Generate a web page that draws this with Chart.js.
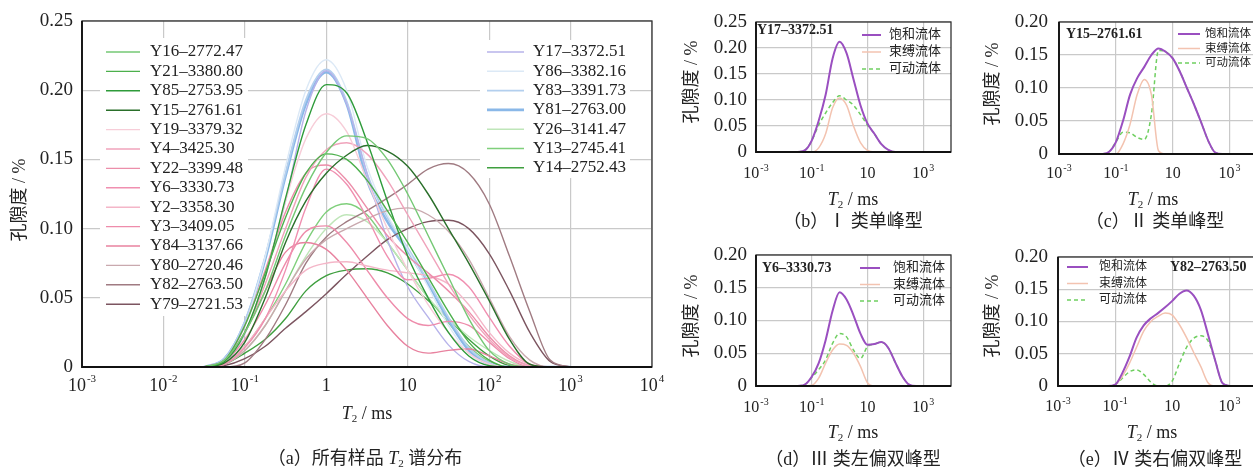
<!DOCTYPE html>
<html>
<head>
<meta charset="utf-8">
<script src="https://cdn.jsdelivr.net/npm/chart.js@4.4.1/dist/chart.umd.min.js"></script>
<style>
  html, body { margin: 0; padding: 0; background: #fff; width: 1253px; height: 473px; overflow: hidden; }
  canvas { position: absolute; }
</style>
</head>
<body>
<canvas id="chartA" width="670" height="473" style="left:0;top:0"></canvas>
<canvas id="chartB" width="290" height="235" style="left:680px;top:0"></canvas>
<canvas id="chartC" width="310" height="235" style="left:960px;top:0"></canvas>
<canvas id="chartD" width="290" height="243" style="left:680px;top:230px"></canvas>
<canvas id="chartE" width="310" height="243" style="left:960px;top:230px"></canvas>
<script>
// T2 sampling grid (ms), shared by every curve
const t2Ms = [0.0316, 0.0562, 0.1, 0.178, 0.316, 0.562, 1, 1.78, 3.16, 5.62, 10, 17.8, 31.6, 56.2, 100, 178, 316, 562, 1000];

// (a) all samples, porosity %
const y16 = [0, 0.005, 0.025, 0.055, 0.095, 0.13, 0.155, 0.167, 0.165, 0.15, 0.125, 0.095, 0.065, 0.035, 0.012, 0.002, 0, 0, 0];
const y21 = [0, 0.005, 0.03, 0.068, 0.108, 0.14, 0.154, 0.15, 0.135, 0.113, 0.09, 0.065, 0.04, 0.018, 0.005, 0, 0, 0, 0];
const y85 = [0, 0.004, 0.025, 0.065, 0.122, 0.175, 0.204, 0.198, 0.163, 0.12, 0.08, 0.05, 0.025, 0.008, 0.001, 0, 0, 0, 0];
const y15 = [0, 0.003, 0.018, 0.05, 0.09, 0.12, 0.14, 0.153, 0.16, 0.156, 0.145, 0.125, 0.1, 0.075, 0.048, 0.02, 0.002, 0, 0];
const y19 = [0, 0.004, 0.025, 0.065, 0.12, 0.165, 0.183, 0.17, 0.135, 0.1, 0.07, 0.045, 0.025, 0.01, 0.002, 0, 0, 0, 0];
const y4 = [0, 0.004, 0.025, 0.06, 0.1, 0.137, 0.157, 0.162, 0.154, 0.135, 0.11, 0.085, 0.06, 0.038, 0.02, 0.007, 0.001, 0, 0];
const y22 = [0, 0.005, 0.03, 0.07, 0.112, 0.14, 0.146, 0.135, 0.115, 0.095, 0.08, 0.068, 0.055, 0.04, 0.022, 0.008, 0.001, 0, 0];
const y6 = [0, 0.002, 0.014, 0.035, 0.07, 0.115, 0.143, 0.132, 0.108, 0.08, 0.063, 0.064, 0.067, 0.058, 0.036, 0.015, 0.002, 0, 0];
const y2 = [0, 0.003, 0.015, 0.035, 0.055, 0.07, 0.075, 0.076, 0.073, 0.07, 0.068, 0.066, 0.06, 0.045, 0.025, 0.01, 0.002, 0, 0];
const y3 = [0, 0.004, 0.02, 0.045, 0.075, 0.098, 0.102, 0.09, 0.07, 0.05, 0.035, 0.03, 0.033, 0.03, 0.018, 0.006, 0, 0, 0];
const y84 = [0, 0.005, 0.025, 0.055, 0.083, 0.09, 0.085, 0.07, 0.05, 0.03, 0.015, 0.01, 0.012, 0.013, 0.008, 0.002, 0, 0, 0];
const y80 = [0, 0.002, 0.012, 0.03, 0.055, 0.078, 0.092, 0.1, 0.107, 0.113, 0.115, 0.11, 0.098, 0.078, 0.05, 0.022, 0.005, 0, 0];
const y82 = [0, 0, 0.003, 0.02, 0.045, 0.075, 0.094, 0.105, 0.113, 0.122, 0.132, 0.143, 0.147, 0.14, 0.118, 0.08, 0.04, 0.005, 0];
const y79 = [0, 0.001, 0.006, 0.015, 0.028, 0.04, 0.053, 0.067, 0.08, 0.092, 0.1, 0.105, 0.106, 0.1, 0.082, 0.055, 0.025, 0.004, 0];
const y17 = [0, 0.003, 0.024, 0.065, 0.12, 0.185, 0.214, 0.19, 0.14, 0.092, 0.058, 0.036, 0.016, 0.004, 0, 0, 0, 0, 0];
const y86 = [0, 0.005, 0.03, 0.08, 0.145, 0.2, 0.222, 0.2, 0.145, 0.11, 0.085, 0.058, 0.03, 0.01, 0.001, 0, 0, 0, 0];
const y83 = [0, 0.006, 0.033, 0.08, 0.14, 0.193, 0.215, 0.192, 0.14, 0.108, 0.086, 0.062, 0.036, 0.014, 0.003, 0, 0, 0, 0];
const y81 = [0, 0.006, 0.032, 0.078, 0.138, 0.19, 0.213, 0.19, 0.135, 0.105, 0.084, 0.06, 0.034, 0.012, 0.002, 0, 0, 0, 0];
const y26 = [0, 0.003, 0.012, 0.03, 0.055, 0.08, 0.1, 0.11, 0.105, 0.09, 0.07, 0.05, 0.035, 0.022, 0.012, 0.004, 0, 0, 0];
const y13 = [0, 0.003, 0.015, 0.035, 0.06, 0.09, 0.112, 0.118, 0.11, 0.09, 0.07, 0.05, 0.032, 0.015, 0.004, 0, 0, 0, 0];
const y14 = [0, 0.002, 0.01, 0.02, 0.035, 0.055, 0.066, 0.07, 0.071, 0.068, 0.06, 0.048, 0.035, 0.02, 0.008, 0.001, 0, 0, 0];

const sampleNames = ['Y16–2772.47', 'Y21–3380.80', 'Y85–2753.95', 'Y15–2761.61', 'Y19–3379.32', 'Y4–3425.30',
  'Y22–3399.48', 'Y6–3330.73', 'Y2–3358.30', 'Y3–3409.05', 'Y84–3137.66', 'Y80–2720.46', 'Y82–2763.50',
  'Y79–2721.53', 'Y17–3372.51', 'Y86–3382.16', 'Y83–3391.73', 'Y81–2763.00', 'Y26–3141.47', 'Y13–2745.41', 'Y14–2752.43'];
const sampleValues = [y16, y21, y85, y15, y19, y4, y22, y6, y2, y3, y84, y80, y82, y79, y17, y86, y83, y81, y26, y13, y14];
const sampleColors = ['#74c874', '#4cb04c', '#2e9b3a', '#2a6f2a', '#f7cdd8', '#f0a3bb', '#ec8eaa', '#f08fb0', '#f4b6c8',
  '#ee8cab', '#e8829f', '#c9a9ae', '#a07b82', '#7c5560', '#b7b3ea', '#dce9f6', '#b3cfee', '#8ab8e8', '#bfe6b9', '#7fcf7b', '#3f9f3f'];

// (b)-(e) saturated / bound / movable fluid
const fluidNames = ['饱和流体', '束缚流体', '可动流体'];
const y17Sat = [0, 0.003, 0.022, 0.06, 0.11, 0.18, 0.212, 0.19, 0.14, 0.09, 0.055, 0.035, 0.015, 0.004, 0, 0, 0, 0, 0];
const y17Bound = [0, 0, 0, 0.008, 0.035, 0.085, 0.104, 0.09, 0.05, 0.018, 0.003, 0, 0, 0, 0, 0, 0, 0, 0];
const y17Move = [0, 0.003, 0.022, 0.052, 0.075, 0.095, 0.108, 0.1, 0.09, 0.072, 0.052, 0.035, 0.015, 0.004, 0, 0, 0, 0, 0];
const y15Sat = [0, 0.003, 0.018, 0.05, 0.09, 0.115, 0.132, 0.15, 0.16, 0.155, 0.145, 0.125, 0.1, 0.075, 0.048, 0.02, 0.002, 0, 0];
const y15Bound = [0, 0, 0, 0.015, 0.045, 0.09, 0.113, 0.09, 0.005, 0, 0, 0, 0, 0, 0, 0, 0, 0, 0];
const y15Move = [0, 0.003, 0.018, 0.033, 0.032, 0.025, 0.022, 0.06, 0.157, 0.155, 0.145, 0.125, 0.1, 0.075, 0.048, 0.02, 0.002, 0, 0];
const y6Sat = [0, 0.002, 0.014, 0.035, 0.07, 0.115, 0.143, 0.132, 0.108, 0.08, 0.063, 0.064, 0.067, 0.058, 0.036, 0.015, 0.002, 0, 0];
const y6Bound = [0, 0, 0.001, 0.012, 0.035, 0.055, 0.064, 0.062, 0.05, 0.03, 0.005, 0, 0, 0, 0, 0, 0, 0, 0];
const y6Move = [0, 0.002, 0.013, 0.025, 0.04, 0.065, 0.08, 0.075, 0.055, 0.042, 0.06, 0.064, 0.067, 0.058, 0.036, 0.015, 0.002, 0, 0];
const y82Sat = [0, 0, 0.002, 0.02, 0.045, 0.075, 0.094, 0.105, 0.113, 0.122, 0.132, 0.143, 0.148, 0.14, 0.118, 0.08, 0.04, 0.005, 0];
const y82Bound = [0, 0, 0.002, 0.015, 0.035, 0.06, 0.085, 0.1, 0.108, 0.113, 0.11, 0.095, 0.075, 0.052, 0.03, 0.005, 0, 0, 0];
const y82Move = [0, 0, 0.002, 0.012, 0.022, 0.025, 0.018, 0.006, 0, 0, 0.008, 0.035, 0.06, 0.074, 0.078, 0.07, 0.04, 0.005, 0];

// axis ticks
const xExpMain = [-3, -2, -1, 0, 1, 2, 3, 4];
const xExpSmall = [-3, -1, 1, 3];
const yTicksMain = [0, 0.05, 0.10, 0.15, 0.20, 0.25];
const yTicksB = [0, 0.05, 0.10, 0.15, 0.20, 0.25];
const yTicksSmall = [0, 0.05, 0.10, 0.15, 0.20];

const SERIF = '"Liberation Serif", "Noto Sans CJK SC", serif';
const INK = '#222';

function font(size, style) {
  return (style || '') + ' ' + size + 'px ' + SERIF;
}

// text made of runs: {t, it (italic), sub, b (bold)}
function drawRuns(ctx, runs, cx, cy, size, align) {
  const parts = runs.map((r) => {
    const s = r.sub ? Math.round(size * 0.62) : size;
    const f = font(s, (r.it ? 'italic ' : '') + (r.b ? 'bold' : ''));
    ctx.font = f;
    return {r, f, w: ctx.measureText(r.t).width};
  });
  const total = parts.reduce((a, p) => a + p.w, 0);
  let x = align === 'left' ? cx : cx - total / 2;
  ctx.textBaseline = 'middle';
  ctx.textAlign = 'left';
  parts.forEach((p) => {
    ctx.font = p.f;
    ctx.fillText(p.r.t, x, cy + (p.r.sub ? size * 0.3 : 0));
    x += p.w;
  });
}

function powLabel(ctx, x, y, e, size) {
  ctx.textBaseline = 'middle';
  ctx.textAlign = 'left';
  if (e === 0 || e === 1) {
    const t = e === 0 ? '1' : '10';
    ctx.font = font(size);
    ctx.fillText(t, x - ctx.measureText(t).width / 2, y);
    return;
  }
  const sup = String(e);
  ctx.font = font(size);
  const wb = ctx.measureText('10').width;
  ctx.font = font(Math.round(size * 0.6));
  const ws = ctx.measureText(sup).width;
  const x0 = x - (wb + ws + 1) / 2;
  ctx.font = font(size);
  ctx.fillText('10', x0, y);
  ctx.font = font(Math.round(size * 0.6));
  ctx.fillText(sup, x0 + wb + 1, y - size * 0.38);
}

const decor = {
  id: 'decor',
  beforeDatasetsDraw(chart, args, o) {
    const ctx = chart.ctx;
    ctx.save();
    ctx.fillStyle = '#fff';
    (o.boxes || []).forEach((b) => ctx.fillRect(b[0], b[1], b[2], b[3]));
    ctx.restore();
  },
  afterDatasetsDraw(chart, args, o) {
    const ctx = chart.ctx;
    const a = chart.chartArea;
    const xs = chart.scales.x;
    const ys = chart.scales.y;
    ctx.save();
    // frame
    ctx.strokeStyle = '#333';
    ctx.lineWidth = 1.3;
    ctx.strokeRect(a.left, a.top, a.right - a.left, a.bottom - a.top);
    ctx.strokeStyle = '#111';
    ctx.lineWidth = 1.8;
    ctx.beginPath();
    ctx.moveTo(a.left, a.top);
    ctx.lineTo(a.left, a.bottom);
    ctx.lineTo(a.right, a.bottom);
    ctx.stroke();

    ctx.fillStyle = INK;
    // y tick labels
    o.yTicks.forEach((v) => {
      ctx.font = font(o.ySize);
      ctx.textAlign = 'right';
      ctx.textBaseline = 'middle';
      ctx.fillText(v === 0 ? '0' : v.toFixed(2), o.yLabelRight, ys.getPixelForValue(v));
    });
    // x tick labels
    o.xExps.forEach((e) => powLabel(ctx, xs.getPixelForValue(Math.pow(10, e)), o.xLabelY, e, o.xSize));

    // axis titles and caption
    drawRuns(ctx, [{t: 'T', it: true}, {t: '2', sub: true}, {t: ' / ms'}], o.xTitle[0], o.xTitle[1], o.titleSize);
    ctx.save();
    ctx.translate(o.yTitle[0], o.yTitle[1]);
    ctx.rotate(-Math.PI / 2);
    drawRuns(ctx, [{t: '孔隙度 / %'}], 0, 0, o.titleSize);
    ctx.restore();
    drawRuns(ctx, o.caption, o.captionPos[0], o.captionPos[1], o.captionSize);

    if (o.note) {
      drawRuns(ctx, [{t: o.note.t, b: true}], o.note.x, o.note.y, o.note.size, 'left');
    }

    // legends
    (o.legends || []).forEach((lg) => {
      lg.items.forEach((idx, k) => {
        const ds = chart.data.datasets[idx];
        const y = lg.y + k * lg.dy;
        ctx.strokeStyle = ds.borderColor;
        ctx.lineWidth = ds.borderWidth;
        ctx.setLineDash(ds.borderDash || []);
        ctx.beginPath();
        ctx.moveTo(lg.x, y);
        ctx.lineTo(lg.x + lg.len, y);
        ctx.stroke();
        ctx.setLineDash([]);
        ctx.fillStyle = INK;
        drawRuns(ctx, [{t: ds.label}], lg.tx, y, lg.size, 'left');
      });
    });
    ctx.restore();
  },
};

function makeChart(id, datasets, xMin, xMax, yMax, yStep, xExps, padding, deco) {
  const canvas = document.getElementById(id);
  return new Chart(canvas.getContext('2d'), {
    type: 'line',
    data: {datasets},
    options: {
      responsive: false,
      animation: false,
      layout: {padding},
      elements: {point: {radius: 0}, line: {cubicInterpolationMode: 'monotone'}},
      scales: {
        x: {
          type: 'logarithmic', min: xMin, max: xMax,
          afterBuildTicks: (scale) => { scale.ticks = xExps.map((e) => ({value: Math.pow(10, e)})); },
          ticks: {display: false},
          grid: {color: '#c9c9c9', lineWidth: 1.2, drawTicks: false},
          border: {display: false},
        },
        y: {
          min: 0, max: yMax,
          ticks: {display: false, stepSize: yStep},
          grid: {color: '#c9c9c9', lineWidth: 1.2, drawTicks: false},
          border: {display: false},
        },
      },
      plugins: {legend: {display: false}, tooltip: {enabled: false}, decor: deco},
    },
    plugins: [decor],
  });
}

function xy(values) {
  return values.map((v, i) => ({x: t2Ms[i], y: v}));
}

// (a)
const mainSets = sampleValues.map((vals, i) => ({
  label: sampleNames[i],
  data: xy(vals),
  borderColor: sampleColors[i],
  borderWidth: sampleNames[i].startsWith('Y81') ? 2.6 : (sampleNames[i].startsWith('Y83') ? 1.8 : 1.4),
  fill: false,
}));

makeChart('chartA', mainSets, 0.001, 10000, 0.25, 0.05, xExpMain,
  {left: 82, top: 21, right: 18, bottom: 106},
  {
    yTicks: yTicksMain, ySize: 19, yLabelRight: 73,
    xExps: xExpMain, xSize: 18, xLabelY: 386,
    titleSize: 18, xTitle: [367, 414], yTitle: [20, 200],
    caption: [{t: '（a）所有样品 '}, {t: 'T', it: true}, {t: '2', sub: true}, {t: ' 谱分布'}],
    captionPos: [365, 459], captionSize: 18,
    boxes: [[100, 38, 148, 278], [480, 40, 150, 138]],
    legends: [
      {x: 106, y: 52, dy: 19.4, len: 34, tx: 150, size: 17, items: [0, 1, 2, 3, 4, 5, 6, 7, 8, 9, 10, 11, 12, 13]},
      {x: 487, y: 52, dy: 19.3, len: 37, tx: 533, size: 17, items: [14, 15, 16, 17, 18, 19, 20]},
    ],
  });

function fluidSets(sat, bound, move) {
  return [
    {label: fluidNames[0], data: xy(sat), borderColor: '#9a4fc0', borderWidth: 2, fill: false},
    {label: fluidNames[1], data: xy(bound), borderColor: '#f3c3b0', borderWidth: 1.5, fill: false},
    {label: fluidNames[2], data: xy(move), borderColor: '#6fcf60', borderWidth: 1.5, borderDash: [4, 3], fill: false},
  ];
}

function smallDeco(yTicks, yLabelRight, xLabelY, xTitle, yTitle, caption, captionPos, note, legend) {
  return {
    yTicks, ySize: 19, yLabelRight,
    xExps: xExpSmall, xSize: 16, xLabelY,
    titleSize: 18, xTitle, yTitle,
    caption: [{t: caption}], captionPos, captionSize: 18,
    note, legends: [legend],
  };
}

// (b)
makeChart('chartB', fluidSets(y17Sat, y17Bound, y17Move), 0.001, 10000, 0.25, 0.05, xExpSmall,
  {left: 76, top: 22, right: 19, bottom: 83},
  smallDeco(yTicksB, 67, 174, [173, 200], [12, 82], '（b）Ⅰ 类单峰型', [173, 222],
    {t: 'Y17–3372.51', x: 77, y: 30, size: 14},
    {x: 182, y: 35, dy: 17, len: 19, tx: 209, size: 13, items: [0, 1, 2]}));

// (c)
makeChart('chartC', fluidSets(y15Sat, y15Bound, y15Move), 0.001, 10000, 0.2, 0.05, xExpSmall,
  {left: 99, top: 22, right: 12, bottom: 81},
  smallDeco(yTicksSmall, 88, 174, [193, 200], [33, 84], '（c）Ⅱ 类单峰型', [195, 222],
    {t: 'Y15–2761.61', x: 106, y: 34, size: 14},
    {x: 218, y: 34, dy: 14.5, len: 22, tx: 245, size: 11.5, items: [0, 1, 2]}));

// (d)
makeChart('chartD', fluidSets(y6Sat, y6Bound, y6Move), 0.001, 10000, 0.2, 0.05, xExpSmall,
  {left: 76, top: 25, right: 19, bottom: 87},
  smallDeco(yTicksSmall, 67, 178, [173, 203], [12, 86], '（d）Ⅲ 类左偏双峰型', [173, 230],
    {t: 'Y6–3330.73', x: 82, y: 38, size: 14},
    {x: 180, y: 38, dy: 16.5, len: 20, tx: 213, size: 13, items: [0, 1, 2]}));

// (e)
makeChart('chartE', fluidSets(y82Sat, y82Bound, y82Move), 0.001, 10000, 0.2, 0.05, xExpSmall,
  {left: 98, top: 27, right: 12, bottom: 87},
  smallDeco(yTicksSmall, 88, 177, [192, 203], [33, 86], '（e）Ⅳ 类右偏双峰型', [195, 230],
    {t: 'Y82–2763.50', x: 210, y: 37, size: 14},
    {x: 107, y: 37, dy: 16.5, len: 21, tx: 139, size: 12, items: [0, 1, 2]}));
</script>
</body>
</html>
